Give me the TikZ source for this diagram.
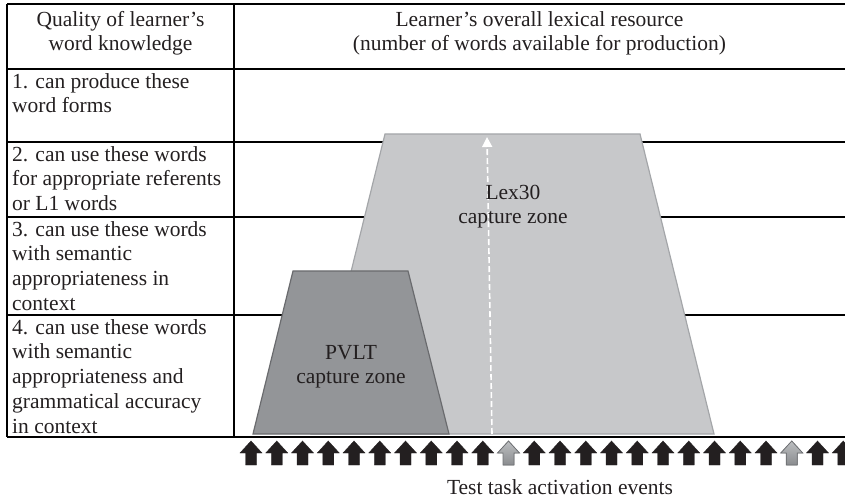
\documentclass[tikz,border=0pt]{standalone}
\usepackage{fontspec}
\setmainfont{Liberation Serif}
\usetikzlibrary{arrows.meta}
\definecolor{lexfill}{HTML}{C7C8CA}
\definecolor{lexedge}{HTML}{A4A6A9}
\definecolor{pvfill}{HTML}{939598}
\definecolor{pvedge}{HTML}{6A6B6E}
\definecolor{arrblack}{HTML}{231F20}
\definecolor{arrgraytop}{HTML}{BDBFC1}
\definecolor{arrgraybottom}{HTML}{8A8C8F}
\definecolor{arrgrayedge}{HTML}{6F7174}
\definecolor{inktext}{HTML}{231F20}
\newcommand{\firstlinestrut}{\rule{0pt}{15.5bp}}
\tikzset{
  pics/uparrow/.style={code={
    \filldraw[#1] (0,0) -- (11,12) -- (5.5,12) -- (5.5,24) -- (-5.5,24) -- (-5.5,12) -- (-11,12) -- cycle;
  }}
}
\begin{document}
\begin{tikzpicture}[x=1bp,y=-1bp,
  rule/.style={line width=1.2bp, draw=black},
  txt/.style={font=\fontsize{21.5bp}{24.75bp}\selectfont, inner sep=0pt, text=inktext},
  celltext/.style={txt, align=left, anchor=north west},
  headtext/.style={txt, align=center, anchor=north},
  zonetext/.style={txt, align=center, anchor=north},
  lexzone/.style={fill=lexfill, draw=lexedge, line width=1.2bp},
  pvzone/.style={fill=pvfill, draw=pvedge, line width=1.2bp},
  blackarrow/.style={fill=arrblack, draw=arrblack, line width=0.4bp},
  grayarrow/.style={top color=arrgraytop, bottom color=arrgraybottom, draw=arrgrayedge, line width=0.8bp},
  probe/.style={draw=white, line width=1.6bp, dash pattern=on 6bp off 3bp,
    -{Triangle[width=10bp,length=10bp,fill=white]}}
]
\useasboundingbox (0,0) rectangle (845,501);

% table rules
\foreach \yy in {4,69,142,217,315,437} {
  \draw[rule] (7,\yy) -- (845,\yy);
}
\draw[rule] (7,4) -- (7,437);
\draw[rule] (234,4) -- (234,437);

% header texts
\node[headtext] (hleft) at (120.5,10.5) {\firstlinestrut Quality of learner’s\\word knowledge};
\node[headtext] (hright) at (539.5,10.5) {\firstlinestrut Learner’s overall lexical resource\\(number of words available for production)};

% row texts
\node[celltext] (r1) at (12,72.5) {\firstlinestrut 1. can produce these\\word forms};
\node[celltext] (r2) at (12,145.5) {\firstlinestrut 2. can use these words\\for appropriate referents\\or L1 words};
\node[celltext] (r3) at (12,220.5) {\firstlinestrut 3. can use these words\\with semantic\\appropriateness in\\context};
\node[celltext] (r4) at (12,318.5) {\firstlinestrut 4. can use these words\\with semantic\\appropriateness and\\grammatical accuracy\\in context};

% capture zones
\draw[lexzone] (385,134) -- (640,134) -- (714,434) -- (311,434) -- cycle;
\draw[pvzone] (293,271) -- (408,271) -- (449,434) -- (253,434) -- cycle;

% dashed probe arrow
\coordinate (probebase) at (492,434);
\coordinate (probetip) at (487,137);
\draw[probe] (probebase) -- (probetip);

\node[zonetext] (lexlabel) at (513,183.5) {\firstlinestrut Lex30\\capture zone};
\node[zonetext] (pvlabel) at (351,343.5) {\firstlinestrut PVLT\\capture zone};

% activation arrows
\foreach \i in {0,...,23} {
  \pgfmathsetmacro{\xx}{251+25.75*\i}
  \ifnum\i=10
    \pic at (\xx,441) {uparrow=grayarrow};
  \else\ifnum\i=21
    \pic at (\xx,441) {uparrow=grayarrow};
  \else
    \pic at (\xx,441) {uparrow=blackarrow};
  \fi\fi
}

\node[txt, anchor=base] (events) at (560,494) {Test task activation events};
\end{tikzpicture}
\end{document}
